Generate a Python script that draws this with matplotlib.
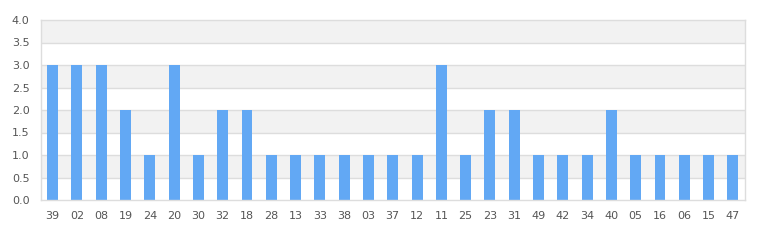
import matplotlib

matplotlib.use("Agg")
import matplotlib.pyplot as plt

# categories and counts
labels = ["39", "02", "08", "19", "24", "20", "30", "32", "18", "28", "13", "33",
          "38", "03", "37", "12", "11", "25", "23", "31", "49", "42", "34", "40",
          "05", "16", "06", "15", "47"]
counts = [3, 3, 3, 2, 1, 3, 1, 2, 2, 1, 1, 1, 1, 1, 1, 1, 3, 1, 2, 2, 1, 1, 1, 2,
          1, 1, 1, 1, 1]
yticks = [0.0, 0.5, 1.0, 1.5, 2.0, 2.5, 3.0, 3.5, 4.0]

BAR_COLOR = "#62a8f4"
TEXT_COLOR = "#555555"
GRID_COLOR = "#dddddd"
BAND_COLOR = "#f2f2f2"

fig = plt.figure(figsize=(7.75, 2.4), dpi=100)
fig.patch.set_facecolor("white")
ax = fig.add_axes([40.5 / 775, 40 / 240, 704.5 / 775, 180 / 240])

# alternating background bands
for lo in yticks[1::2]:
    ax.axhspan(lo, lo + 0.5, color=BAND_COLOR, zorder=0, lw=0)
for y in yticks[1:-1]:
    ax.axhline(y, color=GRID_COLOR, lw=1, zorder=1)

x = list(range(len(labels)))
ax.bar(x, counts, width=0.45, color=BAR_COLOR, zorder=2)

ax.set_xlim(-0.5, len(labels) - 0.5)
ax.set_ylim(0, 4)
ax.set_xticks(x)
ax.set_xticklabels(labels)
ax.set_yticks(yticks)
ax.set_yticklabels([f"{v:.1f}" for v in yticks])
ax.tick_params(length=0, labelsize=8, colors=TEXT_COLOR)
ax.tick_params(axis="x", pad=8)
ax.tick_params(axis="y", pad=8)

for side in ax.spines.values():
    side.set_color(GRID_COLOR)
    side.set_linewidth(1)

fig.savefig("out.png", dpi=100, facecolor="white")
